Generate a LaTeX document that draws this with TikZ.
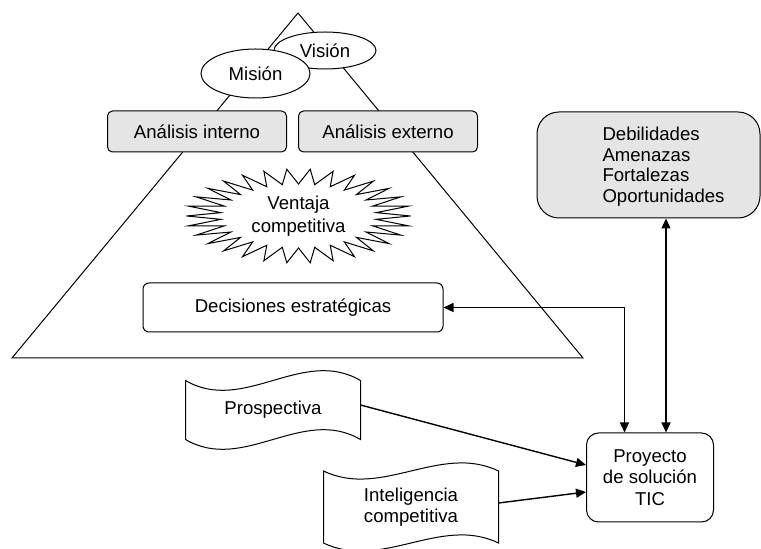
\documentclass[tikz,border=0pt]{standalone}
\usepackage{fontspec}
\setmainfont{Liberation Sans}
\usetikzlibrary{shapes.geometric,arrows.meta}

\begin{document}
\begin{tikzpicture}[x=0.5pt, y=0.5pt, line width=0.5pt,
  font=\fontsize{9.3}{10.3}\selectfont,
  oval/.style={ellipse, draw, fill=white, inner sep=0pt},
  analisis/.style={draw, fill=black!10, rounded corners=2.5pt, inner sep=0pt,
    minimum width=89.5pt, minimum height=20.5pt},
  flag/.style={align=center, inner sep=0pt, minimum width=87pt, minimum height=#1},
  link/.style={line width=0.7pt, -{Triangle[length=5pt,width=4.5pt]}},
  both/.style={line width=0.7pt, {Triangle[length=5pt,width=4.5pt]}-{Triangle[length=5pt,width=4.5pt]}}]
\useasboundingbox (0,0) rectangle (761,-549);

% piramide
\draw (298,-13) -- (583,-358) -- (12,-358) -- cycle;

\node [oval, minimum width=51pt, minimum height=18.5pt] (vision) at (325,-50.5) {Visión};
\node [oval, minimum width=54.5pt, minimum height=24.5pt] (mision) at (255.5,-73.5) {Misión};

\node [analisis] (interno) at (197,-131.5) {Análisis interno};
\node [analisis] (externo) at (388,-131.5) {Análisis externo};

\node [align=center] (ventaja) at (298.5,-216) {Ventaja\\[1.2pt]competitiva};
\draw [shift={(ventaja.center)}] (0:56pt and 23.5pt)
  \foreach \i [evaluate=\i as \rx using {isodd(\i) ? 39 : 56},
               evaluate=\i as \ry using {isodd(\i) ? 16 : 23.5}] in {1,...,59}
  { -- (\i*6:\rx pt and \ry pt) } -- cycle;

\node [draw, fill=white, rounded corners=3pt, minimum width=150pt, minimum height=24.5pt] (decision) at (293,-307.5) {Decisiones estratégicas};

% FODA
\node [draw, fill=black!10, rounded corners=11pt, minimum width=111.5pt, minimum height=53pt] (foda) at (648.5,-165) {};
\node [align=left, anchor=west, inner sep=0pt] (fodatext) at (602,-166.5) {Debilidades\\Amenazas\\Fortalezas\\Oportunidades};

\node [draw, fill=white, rounded corners=6pt, align=center, minimum width=63.5pt, minimum height=44.5pt] (proyecto) at (650,-477.5) {Proyecto\\[0.5pt]de solución\\[0.5pt]TIC};

% banderas
\node [flag=29pt] (prospectiva) at (273,-410) {Prospectiva};
\draw (prospectiva.north west) .. controls +(58,-34) and +(-58,34) .. (prospectiva.north east)
  -- (prospectiva.south east) .. controls +(-58,34) and +(58,-34) .. (prospectiva.south west) -- cycle;
\node [flag=35.5pt] (inteligencia) at (411,-507) {Inteligencia\\competitiva};
\draw (inteligencia.north west) .. controls +(58,-28) and +(-58,28) .. (inteligencia.north east)
  -- (inteligencia.south east) .. controls +(-58,28) and +(58,-28) .. (inteligencia.south west) -- cycle;

\draw [link] ([yshift=2.5pt]prospectiva.east) -- ([yshift=6.25pt]proyecto.west);
\draw [link] ([yshift=2pt]inteligencia.east) -- ([yshift=-7.25pt]proyecto.west);
\draw [both] (decision.east) -| ([xshift=-12.75pt]proyecto.north);
\draw [both] ([xshift=8.75pt]foda.south) -- ([xshift=8.75pt]foda.south |- proyecto.north);
\end{tikzpicture}
\end{document}
